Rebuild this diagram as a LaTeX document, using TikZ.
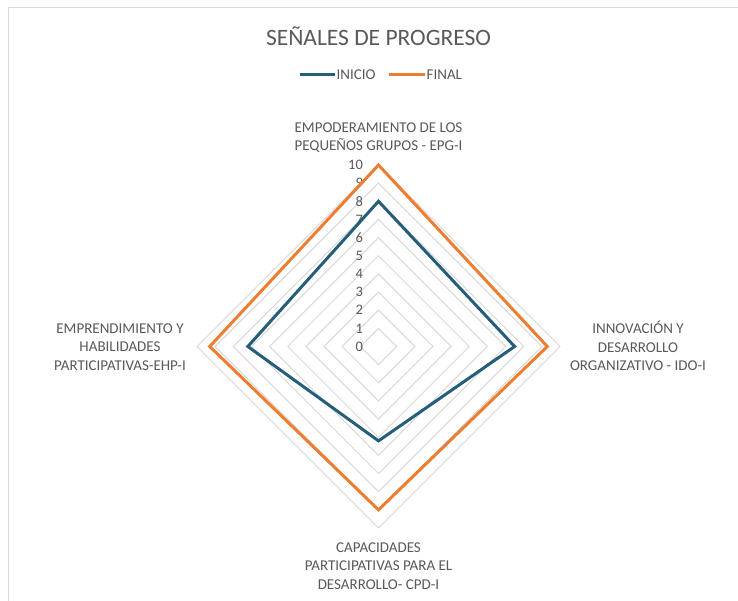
\documentclass[tikz,border=0pt]{standalone}
\usepackage{fontspec}
\setmainfont{Carlito}
\usepackage{xcolor}
\definecolor{inicioblue}{HTML}{255E7A}
\definecolor{finalorange}{HTML}{ED7D31}
\definecolor{ringgray}{HTML}{D9D9D9}
\definecolor{txtgray}{HTML}{595959}

\begin{document}
\begin{tikzpicture}[x=1pt,y=1pt,
  ring/.style={ringgray, line width=1pt},
  inicio/.style={inicioblue, line width=3pt},
  final/.style={finalorange, line width=3pt},
  lbl/.style={text=txtgray, font=\fontsize{15}{18.5}\selectfont, align=center, inner sep=0pt},
  legend/.style={text=txtgray, font=\fontsize{15}{17}\selectfont, anchor=west, inner sep=1.5pt},
  ticklbl/.style={text=txtgray, font=\fontsize{14.5}{16}\selectfont, anchor=east, inner sep=0pt}]
\useasboundingbox (0,0) rectangle (738,601);
\draw [ringgray, line width=1.5pt] (8.5,0) -- (8.5,593.5) -- (738,593.5);

\node [text=txtgray, font=\fontsize{23.5}{27}\selectfont] (title) at (378.5,565) {SEÑALES DE PROGRESO};

% leyenda
\coordinate (ia) at (300,526);
\coordinate (ib) at (335,526);
\coordinate (fa) at (389,526);
\coordinate (fb) at (425,526);
\draw [inicio] (ia) -- (ib);
\node [legend] (ini) at (ib) {INICIO};
\draw [final] (fa) -- (fb);
\node [legend] (fin) at (fb) {FINAL};

\begin{scope}[shift={(378.5,254.5)}, x=18.15pt, y=18.15pt]
\foreach \r in {1,...,10}
  \draw [ring] (0:\r) -- (90:\r) -- (180:\r) -- (270:\r) -- cycle;
\foreach \v in {0,...,10}
  \node [ticklbl] (n\v) at (-0.85,\v) {\v};
\draw [inicio] (90:8) -- (0:7.5) -- (270:5.2) -- (180:7.2) -- cycle;
\draw [final] (90:10) -- (0:9.3) -- (270:9) -- (180:9.3) -- cycle;
\end{scope}

\node [lbl] (epg) at (378.5,463.5) {EMPODERAMIENTO DE LOS\\PEQUEÑOS GRUPOS - EPG-I};
\node [lbl] (ido) at (638,255) {INNOVACIÓN Y\\DESARROLLO\\ORGANIZATIVO - IDO-I};
\node [lbl] (ehp) at (120,254) {EMPRENDIMIENTO Y\\HABILIDADES\\PARTICIPATIVAS-EHP-I};
\node [lbl] (cpd) at (378.5,35) {CAPACIDADES\\PARTICIPATIVAS PARA EL\\DESARROLLO- CPD-I};
%\draw [ring] (0,0) -- (90:10);
\end{tikzpicture}
\end{document}
